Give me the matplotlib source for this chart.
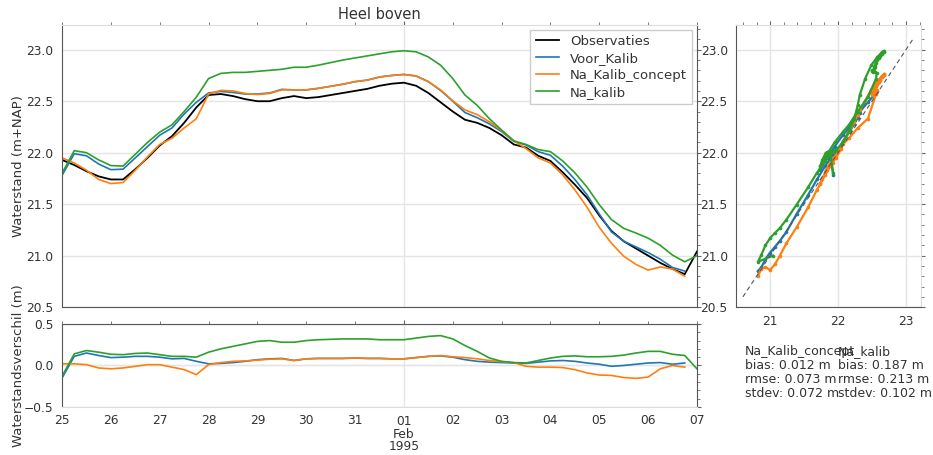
import numpy as np
import pandas as pd
import matplotlib
matplotlib.use('Agg')
import matplotlib.pyplot as plt
import matplotlib.dates as mdates
from matplotlib.ticker import MultipleLocator

# 6-uurlijkse waarden, 25 jan 1995 00:00 t/m 7 feb 1995 00:00
tijd = pd.date_range('1995-01-25', '1995-02-07', freq='6h')

observaties = [21.93, 21.88, 21.82, 21.77, 21.74, 21.74, 21.84, 21.95, 22.07, 22.16,
               22.29, 22.44, 22.56, 22.57, 22.55, 22.52, 22.50, 22.50, 22.53, 22.55,
               22.53, 22.54, 22.56, 22.58, 22.60, 22.62, 22.65, 22.67, 22.68, 22.65,
               22.58, 22.49, 22.40, 22.32, 22.29, 22.24, 22.17, 22.08, 22.05, 21.97,
               21.92, 21.81, 21.69, 21.56, 21.39, 21.24, 21.14, 21.07, 21.00, 20.93,
               20.87, 20.82, 21.04]

# verschil model - observatie (onderste paneel)
verschil_voor = [-0.15, 0.11, 0.15, 0.12, 0.095, 0.10, 0.11, 0.11, 0.10, 0.08,
                 0.085, 0.05, 0.02, 0.025, 0.035, 0.05, 0.07, 0.08, 0.085, 0.06,
                 0.08, 0.085, 0.085, 0.085, 0.09, 0.085, 0.085, 0.08, 0.08, 0.095,
                 0.11, 0.115, 0.10, 0.07, 0.05, 0.04, 0.035, 0.03, 0.025, 0.04,
                 0.055, 0.06, 0.05, 0.03, 0.015, -0.01, 0.0, 0.015, 0.03, 0.035,
                 0.015, 0.03, np.nan]
verschil_concept = [0.02, 0.02, 0.01, -0.03, -0.04, -0.03, -0.01, 0.01, 0.01, -0.02,
                    -0.05, -0.11, 0.01, 0.035, 0.05, 0.055, 0.065, 0.075, 0.08, 0.06,
                    0.08, 0.085, 0.085, 0.085, 0.09, 0.085, 0.085, 0.08, 0.08, 0.095,
                    0.11, 0.12, 0.105, 0.095, 0.08, 0.06, 0.045, 0.035, -0.01, -0.02,
                    -0.02, -0.025, -0.05, -0.09, -0.115, -0.12, -0.145, -0.155, -0.14, -0.04,
                    0.0, -0.02, np.nan]
verschil_na = [-0.13, 0.14, 0.18, 0.16, 0.135, 0.13, 0.145, 0.15, 0.13, 0.11,
               0.11, 0.10, 0.16, 0.20, 0.23, 0.26, 0.29, 0.30, 0.28, 0.28,
               0.30, 0.31, 0.315, 0.32, 0.32, 0.32, 0.31, 0.31, 0.31, 0.33,
               0.35, 0.36, 0.32, 0.24, 0.17, 0.09, 0.05, 0.035, 0.03, 0.06,
               0.09, 0.11, 0.115, 0.105, 0.105, 0.11, 0.125, 0.15, 0.17, 0.17,
               0.135, 0.12, -0.04]

obs = np.array(observaties)
series = [
    ('Voor_Kalib', obs + np.array(verschil_voor), '#1f77b4'),
    ('Na_Kalib_concept', obs + np.array(verschil_concept), '#ff7f0e'),
    ('Na_kalib', obs + np.array(verschil_na), '#2ca02c'),
]

donker = '#555555'
licht = '#dddddd'
tekst = '#333333'
plt.rcParams['font.family'] = 'DejaVu Sans'
plt.rcParams['text.color'] = tekst
plt.rcParams['axes.labelcolor'] = tekst
plt.rcParams['xtick.color'] = '#666666'
plt.rcParams['ytick.color'] = '#666666'
plt.rcParams['xtick.labelcolor'] = tekst
plt.rcParams['ytick.labelcolor'] = tekst

fig = plt.figure(figsize=(9.33, 4.55), dpi=100)
ax = fig.add_axes([0.0665, 0.325, 0.6805, 0.62])
ax2 = fig.add_axes([0.0665, 0.1055, 0.6805, 0.1825], sharex=ax)
ax3 = fig.add_axes([0.789, 0.325, 0.198, 0.62])

# bovenste paneel
ax.plot(tijd, obs, color='black', lw=1.3, label='Observaties')
for naam, waarden, kleur in series:
    ax.plot(tijd, waarden, color=kleur, lw=1.2, label=naam)
ax.set_ylim(20.5, 23.24)
ax.set_xlim(tijd[0], tijd[-1])
ax.yaxis.set_major_locator(MultipleLocator(0.5))
ax.yaxis.set_minor_locator(MultipleLocator(0.1))
ax.set_ylabel('Waterstand (m+NAP)', fontsize=9.5)
ax.yaxis.set_label_coords(-0.058, 0.5)
ax.set_title('Heel boven', fontsize=10.5, pad=4)
ax.legend(loc='upper right', fontsize=9.5, framealpha=1, edgecolor='#cccccc',
          fancybox=False, borderaxespad=0.35, handlelength=1.8, labelspacing=0.3)
for s, c in [('left', donker), ('bottom', donker), ('right', donker), ('top', licht)]:
    ax.spines[s].set_color(c)

# onderste paneel
ax2.axhline(0, color='#e5e5e5', lw=1, zorder=0)
for naam, waarden, kleur in series:
    ax2.plot(tijd, waarden - obs, color=kleur, lw=1.2)
ax2.set_ylim(-0.5, 0.5)
ax2.yaxis.set_major_locator(MultipleLocator(0.5))
ax2.yaxis.set_minor_locator(MultipleLocator(0.1))
ax2.set_ylabel('Waterstandsverschil (m)', fontsize=9.5)
ax2.yaxis.set_label_coords(-0.058, 0.5)
for s, c in [('left', donker), ('top', donker), ('right', donker), ('bottom', licht)]:
    ax2.spines[s].set_color(c)

ax2.xaxis.set_major_locator(mdates.MonthLocator())
ax2.xaxis.set_major_formatter(mdates.DateFormatter('%d\n%b\n%Y'))
ax2.xaxis.set_minor_locator(mdates.DayLocator())
ax2.xaxis.set_minor_formatter(mdates.DateFormatter('%d'))

for a in (ax, ax2):
    a.grid(which='major', color='#e5e5e5', lw=1)
    a.set_axisbelow(True)
    a.tick_params(which='both', left=False, bottom=False, top=True, right=True,
                  direction='out', labelsize=8.8, pad=3)
    a.tick_params(which='major', length=3)
    a.tick_params(which='minor', length=2)
ax.tick_params(which='both', labelbottom=False)
ax2.tick_params(which='both', labelbottom=True)
for lbl in ax2.get_xticklabels():
    lbl.set_linespacing(0.95)

# spreidingsdiagram
for naam, waarden, kleur in series:
    ax3.plot(obs, waarden, '-o', ms=2.6, lw=1.6, color=kleur, mew=0)
ax3.plot([20.6, 23.1], [20.6, 23.1], ls=(0, (4, 3)), color='#555555', lw=0.8)
ax3.set_xlim(20.5, 23.22)
ax3.set_ylim(20.5, 23.24)
ax3.xaxis.set_major_locator(MultipleLocator(1.0))
ax3.xaxis.set_minor_locator(MultipleLocator(0.2))
ax3.yaxis.set_major_locator(MultipleLocator(0.5))
ax3.yaxis.set_minor_locator(MultipleLocator(0.1))
ax3.grid(which='major', color='#e5e5e5', lw=1)
ax3.set_axisbelow(True)
ax3.tick_params(which='both', left=False, bottom=False, top=True, right=True,
                direction='out', labelsize=8.8, pad=3)
ax3.tick_params(which='major', length=3)
ax3.tick_params(which='minor', length=2)
for s, c in [('left', donker), ('bottom', donker), ('right', licht), ('top', licht)]:
    ax3.spines[s].set_color(c)

# statistieken (de twee blokken overlappen elkaar, net als in het origineel)
fig.text(745 / 933, 1 - 345 / 455,
         'Na_Kalib_concept\nbias: 0.012 m\nrmse: 0.073 m\nstdev: 0.072 m',
         fontsize=9, va='top', ha='left', linespacing=1.1)
fig.text(838 / 933, 1 - 345 / 455,
         'Na_kalib\nbias: 0.187 m\nrmse: 0.213 m\nstdev: 0.102 m',
         fontsize=9, va='top', ha='left', linespacing=1.1)

fig.savefig('out.png', dpi=100)
